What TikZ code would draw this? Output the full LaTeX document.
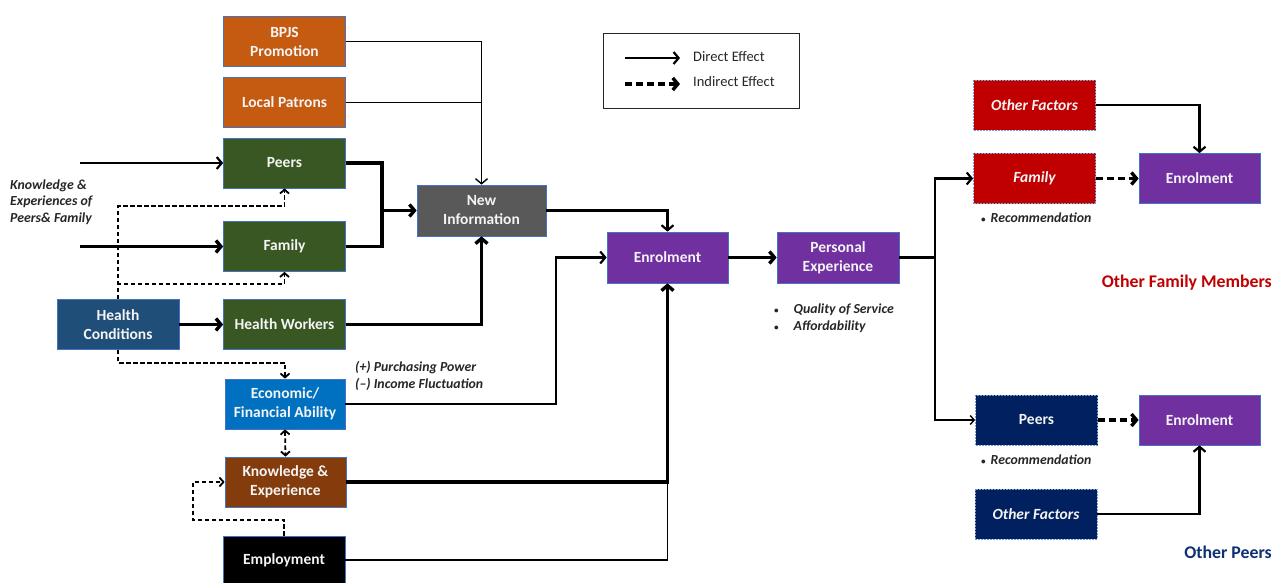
\documentclass[tikz,border=0pt]{standalone}
\usepackage{fontspec}
\setmainfont{Carlito}
\usetikzlibrary{arrows.meta}
\definecolor{orangeb}{HTML}{C55A11}
\definecolor{greenb}{HTML}{385723}
\definecolor{hcblue}{HTML}{1F4E79}
\definecolor{econblue}{HTML}{0070C0}
\definecolor{brownb}{HTML}{843C0C}
\definecolor{grayb}{HTML}{595959}
\definecolor{purpleb}{HTML}{7030A0}
\definecolor{redb}{HTML}{C00000}
\definecolor{navyb}{HTML}{002060}
\definecolor{bord}{HTML}{4472C4}
\definecolor{txtw}{HTML}{F4F4F4}
\definecolor{lbl}{HTML}{262626}
\newcommand{\smbul}{{\fontsize{9}{9}\selectfont\textbullet}}
\tikzset{
  box/.style={draw=bord, line width=0.7pt, minimum width=122pt, minimum height=50pt,
    inner sep=1pt, align=center, text=txtw, font=\bfseries\fontsize{15.5}{19}\selectfont},
  dbox/.style={box, dashed, dash pattern=on 2pt off 1pt, draw=bord!70!white},
  arr/.style={-{Straight Barb[length=5pt,width=12pt]}},
  arrs/.style={-{Straight Barb[length=4pt,width=9pt]}},
  arrboth/.style={{Straight Barb[length=4pt,width=9pt]}-{Straight Barb[length=4pt,width=9pt]}},
  thinl/.style={line width=1.4pt},
  medl/.style={line width=2.2pt},
  thickl/.style={line width=3.4pt},
  ind/.style={line width=1.8pt, dash pattern=on 4.5pt off 2.5pt},
  indthick/.style={line width=3.4pt, dash pattern=on 7pt off 4pt},
  note/.style={text=lbl, font=\bfseries\itshape\fontsize{13.8}{16.5}\selectfont, inner sep=0pt},
}
\begin{document}
\begin{tikzpicture}[x=1pt,y=-1pt]
\useasboundingbox (0,0) rectangle (1272,583);
% left column
\node[box, fill=orangeb] (bpjs) at (284.5,41.5) {BPJS\\Promotion};
\node[box, fill=orangeb] (lp) at (284.5,102.5) {Local Patrons};
\node[box, fill=greenb] (peers) at (284.5,163) {Peers};
\node[box, fill=greenb] (fam) at (284.5,246.5) {Family};
\node[box, fill=greenb] (hw) at (284.5,324.5) {Health Workers};
\node[box, fill=hcblue] (hc) at (118,324.5) {Health\\Conditions};
\node[box, fill=econblue, minimum width=120pt] (econ) at (285,404) {Economic/\\Financial Ability};
\node[box, fill=brownb, minimum width=121pt] (know) at (285.5,482) {Knowledge \&\\Experience};
\node[box, fill=black, minimum height=48pt] (emp) at (284,560) {Employment};
\node[box, fill=grayb, minimum width=129pt, minimum height=51pt] (ni) at (481.5,210.5) {New\\Information};
\node[box, fill=purpleb, minimum width=121pt, minimum height=51pt] (enr) at (667.5,257.5) {Enrolment};
\node[box, fill=purpleb, minimum width=122pt, minimum height=51pt] (pe) at (838,257.5) {Personal\\Experience};
% right side
\node[dbox, fill=redb, font=\bfseries\itshape\fontsize{15.5}{19}\selectfont] (of1) at (1034.5,105) {Other Factors};
\node[dbox, fill=redb, font=\bfseries\itshape\fontsize{15.5}{19}\selectfont] (fam2) at (1034.5,178.5) {Family};
\node[box, fill=purpleb, minimum width=121pt] (en1) at (1199.5,178.5) {Enrolment};
\node[dbox, fill=navyb] (peers2) at (1036.5,420) {Peers};
\node[box, fill=purpleb, minimum width=121pt] (en2) at (1199.5,420) {Enrolment};
\node[dbox, fill=navyb, font=\bfseries\itshape\fontsize{15.5}{19}\selectfont] (of2) at (1036,514) {Other Factors};
% legend
\node[draw=black!85, line width=1pt, minimum width=196pt, minimum height=75pt, inner sep=0pt] (leg) at (701,71.5) {};
\coordinate (la1) at (625,58);
\coordinate (lb1) at (680,58);
\coordinate (la2) at (625,84);
\coordinate (lb2) at (680,84);
\draw[medl, arr] (la1) -- (lb1);
\draw[indthick, arr] (la2) -- (lb2);
\node[anchor=west, inner sep=0pt, font=\fontsize{14.5}{17}\selectfont, text=lbl] (lt1) at (693,57) {Direct Effect};
\node[anchor=west, inner sep=0pt, font=\fontsize{14.5}{17}\selectfont, text=lbl] (lt2) at (693,82) {Indirect Effect};
% labels
\node[note, anchor=west, align=left] (kelbl) at (10,202) {Knowledge \&\\Experiences of\\Peers\& Family};
\node[note, anchor=west, align=left] (pplbl) at (355,376) {(+) \textit{Purchasing Power}\\(--) \textit{Income Fluctuation}};
\node[note, anchor=west, align=left] (qlbl) at (774,318) {\smbul\hspace{15pt}Quality of Service\\\smbul\hspace{15pt}Affordability};
\node[note, anchor=west] (rec1) at (981,218) {\smbul\hspace{5pt}Recommendation};
\node[note, anchor=west] (rec2) at (981,460) {\smbul\hspace{5pt}Recommendation};
\node[anchor=east, inner sep=0pt, text=redb, font=\bfseries\fontsize{17.8}{20}\selectfont] (ofm) at (1272,283) {Other Family Members};
\node[anchor=east, inner sep=0pt, text=navyb!80!bord, font=\bfseries\fontsize{17.8}{20}\selectfont] (op) at (1272,552) {Other Peers};
% connectors into New Information
\draw[thinl, arr] (bpjs.east) -| (ni.north);
\draw[thinl] (lp.east) -- (lp.east -| ni.north);
\coordinate (j1) at (382,210.5);
\draw[thickl] (peers.east) -| (j1);
\draw[thickl] (fam.east) -| (j1);
\draw[thickl, arr] (j1) -- (ni.west);
\draw[thickl, arr] (hw.east) -| (ni.south);
% inputs
\coordinate (in1) at (80,163);
\coordinate (in2) at (80,246.5);
\draw[medl, arr] (in1) -- (peers.west);
\draw[thickl, arr] (in2) -- (fam.west);
\draw[thickl, arr] (hc.east) -- (hw.west);
% indirect from health conditions
\draw[ind, arrs] (hc.north) -- ++(0,-93) -| (peers.south);
\draw[ind, arrs] (hc.north) -- ++(0,-15.5) -| (fam.south);
\draw[ind, arrs] (hc.south) -- ++(0,13) -| (econ.north);
\draw[ind, arrboth] (econ.south) -- (know.north);
\draw[ind, arrs] (emp.north) -- ++(0,-16) -| ([xshift=-32pt]know.west) -- (know.west);
% into Enrolment
\draw[medl, arr] (ni.east) -| (enr.north);
\draw[medl, arr] (econ.east) -- ++(211,0) |- (enr.west);
\draw[thickl, arr] (know.east) -| (enr.south);
\draw[thinl] (emp.east) -| (enr.south |- know.east);
\draw[thickl, arr] (enr.east) -- (pe.west);
% to right side
\coordinate (j2) at (935,257.5);
\draw[medl] (pe.east) -- (j2);
\draw[medl, arr] (j2) |- (fam2.west);
\draw[thinl, arrs] (j2) |- (peers2.west);
\draw[medl, arr] (of1.east) -| (en1.north);
\draw[indthick, arr] (fam2.east) -- (en1.west);
\draw[indthick, arr] (peers2.east) -- (en2.west);
\draw[medl, arr] (of2.east) -| (en2.south);
\end{tikzpicture}
\end{document}
